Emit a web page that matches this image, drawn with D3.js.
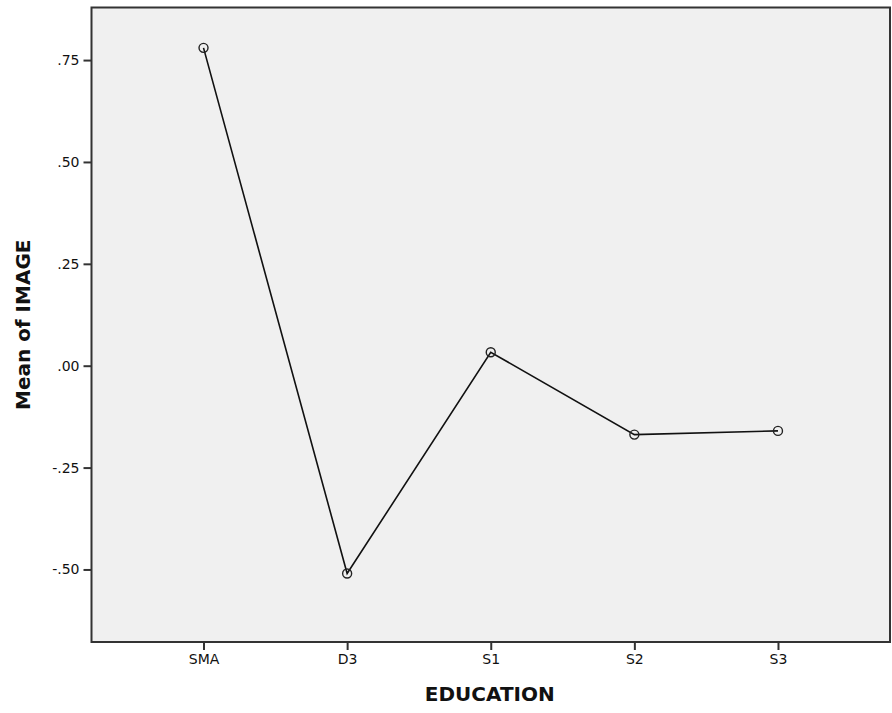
<!DOCTYPE html>
<html><head><meta charset="utf-8">
<script src="https://cdn.jsdelivr.net/npm/d3@7"></script>
<style>
html,body{margin:0;padding:0;background:#fff;}
svg{display:block;}
</style></head>
<body>
<svg id="chart" width="892" height="713"></svg>
<script>
const categories = ["SMA", "D3", "S1", "S2", "S3"];
const meanValues = [0.780, -0.510, 0.033, -0.169, -0.160];
const yTicks = [-0.50, -0.25, 0.00, 0.25, 0.50, 0.75];
const yTickLabels = ["-.50", "-.25", ".00", ".25", ".50", ".75"];
const xTitle = "EDUCATION";
const yTitle = "Mean of IMAGE";

const svg = d3.select("#chart");
const L = 91.5, R = 890, T = 7.5, B = 642;

const x = d3.scalePoint().domain(categories).range([L, R]).padding(0.78);
const y = d3.scaleLinear().domain([-0.678, 0.879]).range([B, T]);

svg.append("rect").attr("x", L).attr("y", T).attr("width", R - L).attr("height", B - T)
  .attr("fill", "#f0f0f0").attr("stroke", "none");

const font = "'DejaVu Sans', 'Open Sans', sans-serif";

const yAxis = svg.append("g").attr("transform", `translate(${L},0)`)
  .call(d3.axisLeft(y).tickValues(yTicks).tickSize(8).tickPadding(4)
    .tickFormat((d, i) => yTickLabels[i]));
yAxis.select(".domain").remove();
yAxis.selectAll(".tick line").attr("stroke", "#333").attr("stroke-width", 2);
yAxis.selectAll(".tick text").attr("fill", "#111").style("font-family", font).style("font-size", "14px");

const xAxis = svg.append("g").attr("transform", `translate(0,${B})`)
  .call(d3.axisBottom(x).tickSize(8).tickPadding(4));
xAxis.select(".domain").remove();
xAxis.selectAll(".tick line").attr("stroke", "#333").attr("stroke-width", 2);
xAxis.selectAll(".tick text").attr("fill", "#111").style("font-family", font).style("font-size", "14px");

svg.append("rect").attr("x", L).attr("y", T).attr("width", R - L).attr("height", B - T)
  .attr("fill", "none").attr("stroke", "#333").attr("stroke-width", 2);

const data = categories.map((c, i) => ({c, v: meanValues[i]}));
svg.append("path").datum(data)
  .attr("fill", "none").attr("stroke", "#111").attr("stroke-width", 1.6)
  .attr("d", d3.line().x(d => x(d.c)).y(d => y(d.v)));

svg.selectAll("circle.pt").data(data).enter().append("circle")
  .attr("class", "pt").attr("cx", d => x(d.c)).attr("cy", d => y(d.v)).attr("r", 4.5)
  .attr("fill", "none").attr("stroke", "#222").attr("stroke-width", 1.4);

svg.append("text").attr("x", (L + R) / 2 - 1).attr("y", 701)
  .attr("text-anchor", "middle").attr("fill", "#111")
  .style("font-family", font).style("font-weight", "bold").style("font-size", "20px")
  .text(xTitle);

svg.append("text").attr("transform", `translate(30,${(T + B) / 2}) rotate(-90)`)
  .attr("text-anchor", "middle").attr("fill", "#111")
  .style("font-family", font).style("font-weight", "bold").style("font-size", "20px")
  .text(yTitle);
</script>
</body></html>
